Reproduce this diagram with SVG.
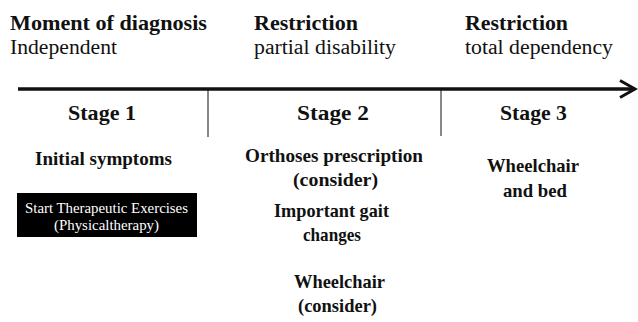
<svg xmlns="http://www.w3.org/2000/svg" width="638" height="322" viewBox="0 0 638 322">
<style>
text{font-family:"Liberation Serif","Times New Roman",serif;fill:#111}
.h{font-size:21px;font-weight:bold}
.s{font-size:20px}
.st{font-size:20px;font-weight:bold;text-anchor:middle}
.b{font-size:19px;font-weight:bold;text-anchor:middle}
.w{font-size:14px;fill:#fff;text-anchor:middle}
.ln{stroke:#111;fill:none}
</style>
<defs>
<marker id="arr" markerWidth="20" markerHeight="24" refX="16" refY="10" orient="auto" markerUnits="userSpaceOnUse">
<path d="M1,1.5 L16,10 L1,18.5" fill="none" stroke="#111" stroke-width="3"/>
</marker>
</defs>
<g id="connectors">
<line class="ln" x1="18" y1="89" x2="635" y2="89" stroke-width="3.5" marker-end="url(#arr)"/>
<line class="ln" x1="208" y1="89" x2="208" y2="137" stroke-width="1"/>
<line class="ln" x1="441" y1="89" x2="441" y2="136" stroke-width="1"/>
</g>
<g id="phase1">
<text class="h" x="10" y="30" textLength="197" lengthAdjust="spacingAndGlyphs">Moment of diagnosis</text>
<text class="s" x="10" y="54" textLength="107" lengthAdjust="spacingAndGlyphs">Independent</text>
</g>
<g id="phase2">
<text class="h" x="254" y="30" textLength="104" lengthAdjust="spacingAndGlyphs">Restriction</text>
<text class="s" x="254" y="54" textLength="142" lengthAdjust="spacingAndGlyphs">partial disability</text>
</g>
<g id="phase3">
<text class="h" x="465" y="30" textLength="103" lengthAdjust="spacingAndGlyphs">Restriction</text>
<text class="s" x="465" y="54" textLength="148" lengthAdjust="spacingAndGlyphs">total dependency</text>
</g>
<g id="stage1">
<text class="st" x="102" y="120" textLength="68" lengthAdjust="spacingAndGlyphs">Stage 1</text>
<text class="b" x="103.5" y="165" textLength="137" lengthAdjust="spacingAndGlyphs">Initial symptoms</text>
</g>
<g id="exercises">
<rect x="17" y="193" width="180" height="44" fill="#000"/>
<text class="w" x="106.5" y="213" textLength="163" lengthAdjust="spacingAndGlyphs">Start Therapeutic Exercises</text>
<text class="w" x="106.5" y="230" textLength="105" lengthAdjust="spacingAndGlyphs">(Physicaltherapy)</text>
</g>
<g id="stage2">
<text class="st" x="333" y="120" textLength="72" lengthAdjust="spacingAndGlyphs">Stage  2</text>
<text class="b" x="334" y="162" textLength="178" lengthAdjust="spacingAndGlyphs">Orthoses prescription</text>
<text class="b" x="335.5" y="186" textLength="85" lengthAdjust="spacingAndGlyphs">(consider)</text>
<text class="b" x="331.5" y="217" textLength="115" lengthAdjust="spacingAndGlyphs">Important gait</text>
<text class="b" x="332" y="241" textLength="58" lengthAdjust="spacingAndGlyphs">changes</text>
<text class="b" x="339.5" y="288" textLength="91" lengthAdjust="spacingAndGlyphs">Wheelchair</text>
<text class="b" x="337.5" y="312" textLength="79" lengthAdjust="spacingAndGlyphs">(consider)</text>
</g>
<g id="stage3">
<text class="st" x="533.5" y="120" textLength="67" lengthAdjust="spacingAndGlyphs">Stage 3</text>
<text class="b" x="533" y="172" textLength="92" lengthAdjust="spacingAndGlyphs">Wheelchair</text>
<text class="b" x="535" y="197" textLength="64" lengthAdjust="spacingAndGlyphs">and bed</text>
</g>
</svg>
